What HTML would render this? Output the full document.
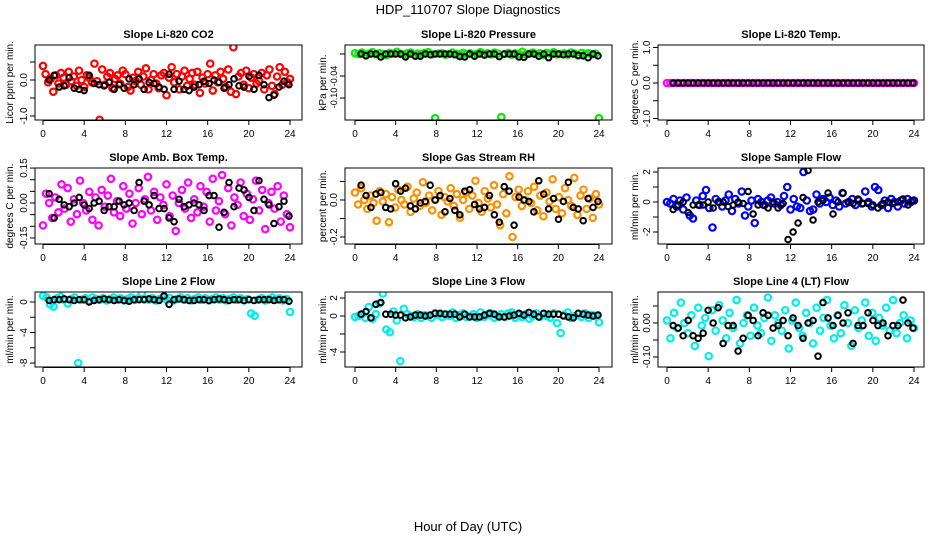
<!DOCTYPE html>
<html><head><meta charset="utf-8">
<style>
html,body{margin:0;padding:0;background:#fff;}
svg{display:block;font-family:"Liberation Sans",Arial,sans-serif;}
</style></head>
<body>
<svg id="chart" width="936" height="540" viewBox="0 0 936 540" xmlns="http://www.w3.org/2000/svg">
<rect width="936" height="540" fill="#fff"/>
<text x="468" y="14" font-size="13" text-anchor="middle">HDP_110707  Slope Diagnostics</text>
<text x="468" y="531" font-size="13" text-anchor="middle">Hour of Day (UTC)</text>
</svg>
<script>
const hourTicks = [0,4,8,12,16,20,24];
const hourLabels = ["0","4","8","12","16","20","24"];

const co2Colored = [60,25,-10,5,-50,20,-15,30,10,-20,35,-5,15,-25,40,0,-30,20,10,-10,70,-5,-170,45,-20,15,30,-35,5,20,-15,40,25,-30,-45,10,-5,35,-20,15,50,-40,0,25,-15,-35,20,30,-65,10,55,-10,25,-40,15,40,-25,5,30,-20,35,-55,10,-15,25,70,-45,20,-10,35,5,-30,45,-50,140,-60,15,30,-20,40,-35,10,25,-15,-5,30,-40,20,45,-25,-60,15,55,-20,35,-10,5];
const co2Black = [0,20,-30,-25,10,-35,-40,-45,20,-15,-20,-25,-10,-40,-20,-35,5,-20,5,-40,-10,-15,-30,-40,25,-40,-5,-40,-45,-30,-20,-5,-15,0,-10,-35,-20,5,-25,-30,15,-40,20,-20,-75,-65,-30,-5,-20];

const pressColored = [22,20,24,18,21,25,19,22,20,17,23,21,26,20,19,22,24,18,21,20,23,25,19,-155,21,22,18,20,24,21,19,23,20,22,18,21,25,20,22,19,24,21,-152,20,23,18,22,20,26,19,21,24,20,22,17,23,21,25,19,20,22,18,24,21,16,23,20,22,19,21,-155];
const pressBlack = [20,15,20,20,12,20,20,20,20,12,20,14,14,20,18,20,20,20,20,18,13,12,20,14,20,17,20,20,13,20,20,20,12,11,20,20,14,20,10,20,20,18,20,20,16,15,10,20,15];

const tempColored = [0,0,0,0,0,0,0,0,0,0,0,0,0,0,0,0,0,0,0,0,0,0,0,0,0,0,0,0,0,0,0,0,0,0,0,0,0,0,0,0,0,0,0,0,0,0,0,0,0,0,0,0,0,0,0,0,0,0,0,0,0,0,0,0,0,0,0,0,0,0,0,0,0];
const tempBlack = [0,0,0,0,0,0,0,0,0,0,0,0,0,0,0,0,0,0,0,0,0,0,0,0,0,0,0,0,0,0,0,0,0,0,0,0,0,0,0,0,0,0,0,0,0,0,0,0,0];

const ambColored = [-12,5,0,-8,3,-5,10,-3,8,-10,2,-6,12,0,-4,6,-9,3,-12,7,-2,4,13,-5,1,-7,9,-3,5,-11,0,8,-6,2,14,-4,6,-9,3,-1,10,-7,4,-15,0,7,-3,11,-8,2,-5,9,-2,6,-10,13,-4,1,15,-6,8,-12,3,-1,11,-7,5,-9,2,12,-4,7,-14,0,6,-3,9,-10,4,-6,-13];
const ambBlack = [5,-8,2,-1,-2,0,3,-1,-3,0,1,-4,-2,-2,1,-1,0,-4,11,1,-1,4,-3,-3,-8,-10,2,-2,-1,0,-1,-4,4,4,-13,-5,11,-2,8,7,3,-4,12,2,-1,-11,-2,1,-7];

const rhColored = [5,-3,8,0,-6,3,-2,-14,6,-1,4,-15,2,-5,7,0,-3,9,-8,1,5,-4,12,-2,3,-7,0,6,-10,2,-1,8,-4,4,-12,0,5,-6,3,13,-2,-8,6,1,-5,10,-3,-17,4,-9,16,-25,2,7,-4,0,6,-2,9,-7,3,-11,5,-1,14,-6,2,-9,8,0,-4,15,-10,3,7,-6,1,-12,4,-3];
const rhBlack = [10,3,-5,4,5,-5,-6,11,6,8,-4,-6,-2,-1,10,0,3,-8,1,-7,-10,6,7,-3,-6,-5,3,-10,-15,9,6,-17,2,0,-1,-8,13,4,-6,1,-13,-1,12,-5,-6,-14,1,-5,-1];

const sampleColored = [0,-1,2,-3,1,-5,3,-9,-11,1,-2,4,8,-4,-17,2,0,-3,1,5,-6,2,-1,7,-9,-3,1,-14,2,0,-2,1,3,-1,0,-2,4,10,-5,2,-3,-4,20,1,-6,-5,5,-1,2,0,3,-2,1,-3,6,-1,0,2,-2,1,-1,7,0,-3,10,8,-2,1,-4,2,0,-3,1,-1,2,0,1];
const sampleBlack = [-5,-2,0,-7,-2,-2,-2,0,-4,0,0,-3,-2,0,-1,7,-8,-2,-2,-4,0,-4,-1,-25,-20,-14,3,21,-12,0,1,6,-8,0,6,0,-1,2,-1,-1,-2,-4,-1,0,-1,0,2,-2,1];

const line2Colored = [8,6,-3,-6,5,7,3,-2,4,6,-80,3,5,2,6,4,3,5,2,4,6,3,5,2,4,6,3,5,12,4,3,5,2,4,6,3,5,2,4,6,3,5,2,4,6,3,5,2,4,6,3,5,2,4,6,3,5,2,4,-15,-18,3,5,2,4,6,3,5,2,4,-13];
const line2Black = [2,3,3,4,3,2,3,3,0,2,3,4,3,2,3,2,1,3,3,3,4,3,2,8,-3,3,4,3,2,2,3,3,2,3,4,3,2,3,3,2,3,2,3,3,3,2,3,3,1];

const line3Colored = [-1,0,2,-2,10,-3,2,14,25,-15,-18,5,-5,-50,8,2,0,-1,2,-2,1,0,-2,3,1,-1,2,0,4,-2,1,3,-1,0,2,-2,4,-1,1,3,-2,0,2,-1,3,4,-2,1,-1,2,-3,0,3,-1,2,0,-2,3,-8,-19,1,4,-2,0,2,-1,3,-2,1,0,-7];
const line3Black = [2,5,-2,13,15,2,2,1,1,-2,-1,1,1,0,1,3,3,2,2,2,-1,2,-1,-1,-1,1,3,2,-1,-1,0,1,3,1,4,2,-1,3,2,2,2,0,-1,-2,3,2,1,0,1];

const line4Colored = [1,-6,4,-2,8,0,-4,3,-9,6,-1,2,-13,5,-3,7,1,-6,4,-2,9,-8,0,3,-5,6,-1,-4,2,10,-7,3,0,-3,5,-10,1,8,-2,-5,4,0,-8,6,-3,2,9,-1,-6,3,-4,7,0,-9,5,-2,1,8,-5,4,-7,2,-1,6,-3,9,-4,0,3,-6,1,-2];
const line4Black = [-1,-2,-5,1,-5,-6,-4,5,0,6,-8,-1,-1,-11,-6,3,1,-5,4,3,-2,-1,1,-5,2,-1,-6,0,1,-13,8,2,-1,3,0,4,-8,-1,-1,4,1,-1,0,-5,-1,-1,9,0,-2];

const co2Ticks = [-1,-0.5,0,0.5];          const co2Labels = ["-1.0","","0.0",""];
const pressTicks = [0.02,-0.04,-0.10];     const pressLabels = ["","-0.04","-0.10"];
const tempTicks = [1,0.5,0,-0.5,-1];       const tempLabels = ["1.0","","0.0","","-1.0"];
const ambTicks = [0.15,0.10,0.05,0,-0.05,-0.10,-0.15]; const ambLabels = ["0.15","","","0.00","","","-0.15"];
const rhTicks = [0.1,0,-0.1,-0.2];         const rhLabels = ["","0.0","","-0.2"];
const sampleTicks = [2,1,0,-1,-2];         const sampleLabels = ["2","","0","","-2"];
const line2Ticks = [0,-2,-4,-6,-8];        const line2Labels = ["0","","-4","","-8"];
const line3Ticks = [2,0,-2,-4];            const line3Labels = ["2","0","","-4"];
const line4Ticks = [0.05,0,-0.05,-0.10];   const line4Labels = ["","0.00","","-0.10"];

const NS = "http://www.w3.org/2000/svg";
const svg = document.getElementById('chart');
function mk(tag, attrs, parent){
  const e = document.createElementNS(NS, tag);
  for (const k in attrs) e.setAttribute(k, attrs[k]);
  (parent||svg).appendChild(e);
  return e;
}
const cols = [{l:35,r:302,a:43,b:290,tx:27,yt:9},{l:345,r:612,a:355,b:599,tx:337,yt:322},{l:658,r:924,a:667,b:914,tx:650,yt:634}];
const rows = [{t:45,b:120},{t:168,b:244},{t:292,b:367}];

const panels = [
 {name:'co2',title:'Slope Li-820 CO2',ylab:'Licor ppm per min.',c:0,r:0,ref:[0,80],ppu:36,scale:0.0065,col:'#ff0000',cv:co2Colored,bv:co2Black,ticks:co2Ticks,labels:co2Labels},
 {name:'pressure',title:'Slope Li-820 Pressure',ylab:'kPa per min.',c:1,r:0,ref:[0.02,54],ppu:366.7,scale:0.001,col:'#00ee00',cv:pressColored,bv:pressBlack,ticks:pressTicks,labels:pressLabels},
 {name:'temp',title:'Slope Li-820 Temp.',ylab:'degrees C per min.',c:2,r:0,ref:[0,83],ppu:35.5,scale:1,col:'#ff00ff',cv:tempColored,bv:tempBlack,ticks:tempTicks,labels:tempLabels},
 {name:'amb-box-temp',title:'Slope Amb. Box Temp.',ylab:'degrees C per min.',c:0,r:1,ref:[0,203],ppu:233,scale:0.008,col:'#ff00ff',cv:ambColored,bv:ambBlack,ticks:ambTicks,labels:ambLabels},
 {name:'gas-rh',title:'Slope Gas Stream RH',ylab:'percent per min.',c:1,r:1,ref:[0,200],ppu:185,scale:0.008,col:'#ff9000',cv:rhColored,bv:rhBlack,ticks:rhTicks,labels:rhLabels},
 {name:'sample-flow',title:'Slope Sample Flow',ylab:'ml/min per min.',c:2,r:1,ref:[0,202],ppu:15,scale:0.1,col:'#0000ff',cv:sampleColored,bv:sampleBlack,ticks:sampleTicks,labels:sampleLabels},
 {name:'line2-flow',title:'Slope Line 2 Flow',ylab:'ml/min per min.',c:0,r:2,ref:[0,302],ppu:7.63,scale:0.1,col:'#00eeee',cv:line2Colored,bv:line2Black,ticks:line2Ticks,labels:line2Labels},
 {name:'line3-flow',title:'Slope Line 3 Flow',ylab:'ml/min per min.',c:1,r:2,ref:[0,316],ppu:9,scale:0.1,col:'#00eeee',cv:line3Colored,bv:line3Black,ticks:line3Ticks,labels:line3Labels},
 {name:'line4-flow',title:'Slope Line 4 (LT) Flow',ylab:'ml/min per min.',c:2,r:2,ref:[0,323],ppu:340,scale:0.0075,col:'#00eeee',cv:line4Colored,bv:line4Black,ticks:line4Ticks,labels:line4Labels}
];

panels.forEach(p=>{
  const C = cols[p.c], R = rows[p.r];
  const g = mk('g',{});
  
  
  const xS = h => C.a + h*(C.b-C.a)/24;
  const yS = v => p.ref[1] - (v - p.ref[0])*p.ppu;
  const clip = mk('clipPath',{id:'clip-'+p.name}, g);
  mk('rect',{x:C.l,y:R.t,width:C.r-C.l,height:R.b-R.t}, clip);
  const t = mk('text',{x:(C.l+C.r)/2,y:R.t-7,'font-size':11,'font-weight':'bold','text-anchor':'middle'},g);
  t.textContent = p.title;
  
  
  const yl = mk('text',{x:0,y:0,'font-size':10,'text-anchor':'middle',transform:`translate(${C.yt+4},${(R.t+R.b)/2}) rotate(-90)`},g);
  yl.textContent = p.ylab;
  
  
  const mg = mk('g',{'clip-path':`url(#clip-${p.name})`},g);
  const n = p.cv.length;
  p.cv.forEach((v,i)=>{
    const c = mk('circle',{cx:xS(i*24/(n-1)),cy:yS(v*p.scale),r:3.2,fill:'none',stroke:p.col,'stroke-width':2.2},mg);
    
    
  });
  const m = p.bv.length;
  p.bv.forEach((v,i)=>{
    const c = mk('circle',{cx:xS(0.6+i*23.3/(m-1)),cy:yS(v*p.scale),r:2.8,fill:'none',stroke:'#000','stroke-width':2},mg);
    
    
  });
  const box = mk('rect',{x:C.l,y:R.t,width:C.r-C.l,height:R.b-R.t,fill:'none',stroke:'#000','stroke-width':1},g);
  
  
  mk('line',{x1:xS(0),x2:xS(24),y1:R.b+0.5,y2:R.b+0.5,stroke:'#000'},g);
  hourTicks.forEach((h,i)=>{
    mk('line',{x1:xS(h),x2:xS(h),y1:R.b,y2:R.b+5,stroke:'#000'},g);
    const tl = mk('text',{x:xS(h),y:R.b+17,'font-size':10,'text-anchor':'middle'},g);
    tl.textContent = hourLabels[i];
    
    
  });
  p.ticks.forEach((v,i)=>{
    const y = yS(v);
    mk('line',{x1:C.l-5,x2:C.l,y1:y,y2:y,stroke:'#000'},g);
    if (p.labels[i]) {
      const tl = mk('text',{x:0,y:0,'font-size':p.name==='pressure'?9:10,'text-anchor':'middle',transform:`translate(${C.tx},${y}) rotate(-90)`},g);
      tl.textContent = p.labels[i];
      
      
    }
  });
});
</script>
</body></html>
